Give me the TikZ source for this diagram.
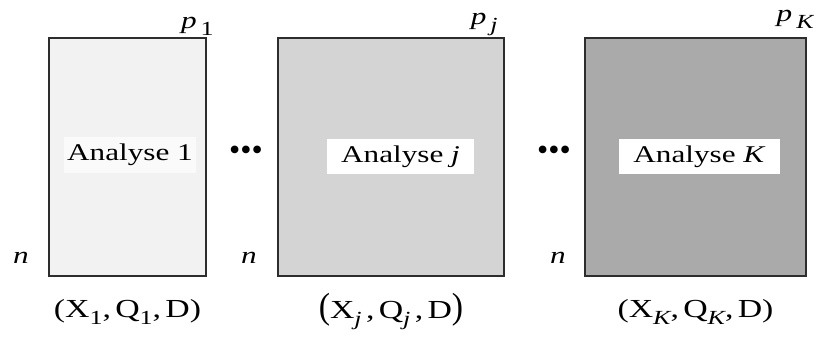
\documentclass[tikz,border=0pt]{standalone}
\usepackage{fontspec}
\usepackage{graphicx}
\setmainfont{Liberation Serif}
\newfontfamily\widefont[FakeStretch=1.3]{Liberation Serif}
\usetikzlibrary{positioning}
\definecolor{matlight}{RGB}{242,242,242}
\definecolor{matmid}{RGB}{212,212,212}
\definecolor{matdark}{RGB}{170,170,170}
\definecolor{matedge}{RGB}{45,45,45}
\newcommand\lowsub[1]{\raisebox{-0.6ex}{\fontsize{10}{12}\selectfont #1}}

\begin{document}
\begin{tikzpicture}[x=0.5pt, y=-0.5pt,
    mat/.style={rectangle, draw=matedge, line width=1pt, minimum height=119pt, inner sep=0pt},
    tag/.style={rectangle, fill=white, inner xsep=7pt, minimum height=16.5pt, font=\widefont\fontsize{12}{14}\selectfont},
    dim/.style={inner sep=0pt, font=\widefont\itshape\fontsize{12}{14}\selectfont},
    triple/.style={inner sep=0pt, font=\widefont\fontsize{13}{15}\selectfont},
    dots/.style={inner sep=0pt, font=\fontsize{16}{18}\selectfont}
  ]
  \useasboundingbox (0,0) rectangle (814,340);

  % the three data blocks
  \node[mat, fill=matlight, minimum width=78.5pt] (blk1) at (127.5,157) {};
  \node[mat, fill=matmid, minimum width=113pt] (blkj) at (391,157) {};
  \node[mat, fill=matdark, minimum width=110.5pt] (blkK) at (695.5,157) {};

  % titles
  \node[tag, inner xsep=1.5pt, fill=white!60!matlight] (ana1) at (130,155) {Analyse 1};
  \node[tag] (anaj) at (400.5,156.5) {Analyse \textit{j}};
  \node[tag] (anaK) at (699.5,156.5) {Analyse \textit{K}};

  % dimensions
  \node[dim, anchor=south east] (p1) at ([shift={(3.5pt,0.5pt)}]blk1.north east) {p\,\lowsub{\upshape 1}};
  \node[dim, anchor=south east] (pj) at ([shift={(-3.5pt,0.5pt)}]blkj.north east) {p\,\lowsub{j}};
  \node[dim, anchor=south east] (pK) at ([shift={(3.5pt,4pt)}]blkK.north east) {p\,\lowsub{K}};
  \node[dim, anchor=base east] (n1) at ([shift={(-9.5pt,6.5pt)}]blk1.south west) {n};
  \node[dim, anchor=base east] (nj) at ([shift={(-10pt,6.5pt)}]blkj.south west) {n};
  \node[dim, anchor=base east] (nK) at ([shift={(-9pt,6.5pt)}]blkK.south west) {n};

  % gaps between blocks
  \node[dots] (gap1) at (246,153) {\textbullet\textbullet\textbullet};
  \node[dots] (gap2) at (554,153) {\textbullet\textbullet\textbullet};

  % triplets
  \node[triple, below=11pt of blk1] (trip1) {(X\lowsub{1},\,Q\lowsub{1},\,D)};
  \node[triple, below=8pt of blkj] (tripj) {\scalebox{1}[1.4]{(}X\lowsub{\itshape j}\,,\,Q\lowsub{\itshape j}\,,\,D\scalebox{1}[1.4]{)}};
  \node[triple, below=11pt of blkK] (tripK) {(X\lowsub{\itshape K},\,Q\lowsub{\itshape K},\,D)};
\end{tikzpicture}
\end{document}
